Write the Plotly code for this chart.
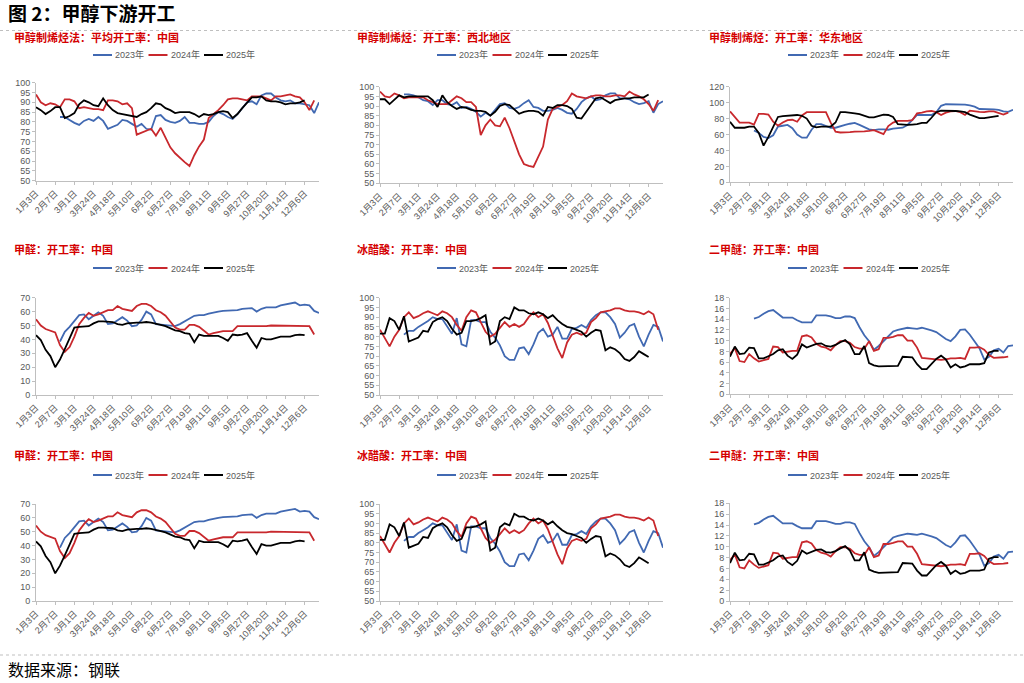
import plotly.graph_objects as go

N = 60
tick_labels = ["1月3日", "2月7日", "3月1日", "3月24日", "4月18日", "5月10日", "6月2日",
               "6月27日", "7月19日", "8月11日", "9月5日", "9月27日", "10月20日",
               "11月14日", "12月6日"]
tick_step = 4
years = ["2023年", "2024年", "2025年"]
colors = ["#4169B2", "#C8282D", "#000000"]

# 甲醇制烯烃法：平均开工率：中国
mto_avg_2023 = [None]*5 + [82.5, 82.5, 81, 79.5, 78.5, 80.5, 81.5, 80.5, 82.5, 80.5, 76.5, 77.5, 78.5, 81, 80.5,
                           79, 77.5, 79, 76.5, 76, 83, 83.5, 81, 80, 79.5, 80.5, 82.5, 79.5, 79.5, 79, 79, 80, 83,
                           85, 84, 82.5, 81.5, 84, 87, 90, 90.5, 89, 93.5, 94.5, 94.5, 92.5, 91, 90.5, 91, 89.5,
                           89.5, 89, 88.5, 84.5, 90]
mto_avg_2024 = [94, 90, 88.5, 89.5, 89, 87.5, 91.5, 91.5, 90.5, 87, 87.5, 87, 86.5, 86.5, 86, 91, 91, 90.5, 89,
                89.5, 87, 73.5, 74.5, 75.5, 76.5, 73, 77, 72, 67, 64, 61.5, 59.5, 57.5, 63, 67.5, 71, 82, 84, 86,
                88.5, 91.5, 92, 92, 91.5, 91, 93, 93, 93, 92, 91, 93, 93, 93.5, 94, 93, 92.5, 90, 86, 91]
mto_avg_2025 = [87.5, 86, 84, 85.5, 87.5, 87.5, 82, 83, 84.5, 89, 91, 90, 88.5, 88, 92, 88.5, 86, 84.5, 84, 83.5,
                83, 82.5, 84, 85, 87, 89.5, 89, 87, 86, 84.5, 85, 85, 85, 84, 82.5, 84, 83.5, 84, 85, 85.5, 85,
                82, 84, 87, 90, 92.5, 92.5, 93, 91, 90.5, 90.5, 90, 89, 89.5, 89.5, 90, 91]

# 甲醇制烯烃：开工率：西北地区
mto_nw_2023 = [None]*5 + [96, 96, 95.5, 94.5, 93, 92.5, 90.5, 93, 93, 91, 90.5, 92, 89, 89.5, 88.5, 87, 84.5,
                          86.5, 85, 88, 91, 91.5, 89, 88.5, 89.5, 91.5, 93, 89.5, 89, 87.5, 87.5, 88, 89, 88,
                          86.5, 86, 88.5, 92, 94, 95, 93, 93.5, 95.5, 96.5, 96.5, 94, 94, 93.5, 92, 91, 91.5,
                          92.5, 86.5, 91, 92.5]
mto_nw_2024 = [97.5, 95, 94.5, 96.5, 95.5, 94, 94.5, 94.5, 94.5, 94.5, 93, 92, 91, 91, 91, 93, 95, 94, 92, 92,
               89.5, 75, 80, 83, 80, 79.5, 84, 78.5, 72, 65, 60, 59, 58.5, 64, 69, 83, 88.5, 89.5, 90.5, 92.5,
               96.5, 95, 94.5, 94, 95, 95.5, 95.5, 95, 95, 95.5, 95.5, 95, 97.5, 96, 95, 93.5, 91, 87.5, 93]
mto_nw_2025 = [93.5, 93.5, 91, 93, 95.5, 94.5, 95, 95, 95, 95, 95, 93, 89.5, 95.5, 92, 90, 88.5, 89.5, 89, 88,
               87.5, 87.5, 87, 85, 87, 90, 91, 90.5, 88, 86, 87, 87.5, 87.5, 87, 85, 89.5, 89, 90.5, 90.5, 90,
               88.5, 84, 83.5, 87, 91, 94, 94.5, 93, 91.5, 93, 93.5, 94, 94, 94.5, 94.5, 94.5, 96]

# 甲醇制烯烃：开工率：华东地区
mto_ec_2023 = [None]*5 + [65, 62, 57, 55.5, 59, 70, 71, 72, 68, 60, 56, 56, 66, 73, 73, 70.5, 68.5, 68.5, 70.5,
                          72, 73.5, 74.5, 72, 69, 66.5, 65.5, 66.5, 66.5, 66, 67.5, 68, 68.5, 72, 78, 84.5,
                          84.5, 84.5, 84.5, 88, 96, 98, 98, 98, 98, 97.5, 96.5, 95, 92, 92, 92, 91.5, 91, 89,
                          88.5, 91]
mto_ec_2024 = [89, 82, 75, 75, 75, 72.5, 86, 86, 85, 76, 71, 75, 78, 78.5, 76, 84, 88, 88, 88, 88, 88, 75, 63.5,
               62.5, 62.5, 63, 63.5, 63.5, 64, 64.5, 65.5, 63, 60.5, 70.5, 75, 77, 77, 77, 78, 86.5, 87.5, 89,
               89.5, 88, 84.5, 87.5, 89, 89.5, 88, 84.5, 90, 89, 88.5, 88, 89, 89, 87, 85, 87.5]
mto_ec_2025 = [76, 68.5, 68.5, 68.5, 70, 70, 62, 46, 57, 70, 82, 83, 83.5, 84, 84.5, 83.5, 80, 71, 69, 70, 70,
               70, 75, 88, 88, 87.5, 86.5, 85.5, 83, 81.5, 81.5, 83, 85, 84.5, 82, 73, 72.5, 72, 72.5, 73, 74.5,
               74.5, 81, 88, 90, 90, 90, 89.5, 89, 88, 85, 83, 80.5, 80.5, 81.5, 82.5, 83.5]

# 甲醛：开工率：中国
hcho_2023 = [None]*5 + [38.5, 45.5, 49, 53, 57.5, 58, 54.5, 57, 59.5, 57, 51, 51.5, 54, 56, 53.5, 49.5, 50, 54,
                        60, 58, 51, 50.5, 50.5, 49.5, 49.5, 51, 53, 55, 57, 57.5, 57.5, 58.5, 59.5, 60, 60.5,
                        60.5, 60.5, 61, 62, 62.5, 62.5, 60, 62, 63, 63, 63, 64.5, 65, 65.5, 66.5, 64.5, 65,
                        64.5, 60.5, 59]
hcho_2024 = [54.5, 50, 47.5, 46, 45, 36, 31, 34.5, 42, 51, 55.5, 59, 57, 58, 59.5, 61, 61, 64, 62, 61.5, 60.5,
             64, 65.5, 65.5, 64, 61, 59.5, 57, 53, 48.5, 47, 47, 50.5, 50.5, 49, 46, 43.5, 44.5, 45.5, 46, 46,
             46, 49.5, 49.5, 49.5, 49.5, 49, 49, 49.5, 50, 50, 50, 50, 49.5, 49.5, 49.5, 49.5, 49.5, 43.5]
hcho_2025 = [43, 39.5, 32.5, 28, 20, 25.5, 33, 41, 48.5, 49, 49, 49.5, 51.5, 53, 53, 53, 52.5, 51, 50.5, 51.5,
             52, 52, 52, 52.5, 52, 51.5, 50.5, 49.5, 48, 46.5, 46, 44.5, 44, 38, 43.5, 42.5, 42.5, 42.5, 42.5,
             41, 39, 43.5, 43, 43.5, 44.5, 39, 34, 41, 40, 40, 41, 42, 42, 42, 43, 43.5, 43]

# 冰醋酸：开工率：中国
hac_2023 = [None]*5 + [81, 83, 83, 85, 86.5, 88, 90, 89, 89, 85, 81.5, 89.5, 76, 75, 88.5, 88.5, 87.5, 87.5,
                       82.5, 79.5, 75.5, 70, 68, 68, 74, 74.5, 71, 76, 82, 84, 80, 81, 85, 79, 79, 84, 84.5, 86,
                       84.5, 88.5, 91, 92.5, 92.5, 90, 86.5, 79.5, 82, 85.5, 86.5, 80, 75, 81, 86, 85, 77.5]
hac_2024 = [83.5, 79, 75, 80, 83.5, 90, 92.5, 89.5, 90.5, 92, 93, 92, 91, 93, 92, 90, 86, 83, 90, 93.5, 92.5,
            87.5, 82.5, 80, 81.5, 84.5, 87.5, 85, 86.5, 85, 86.5, 90, 92.5, 90, 91.5, 87, 80.5, 74, 69, 77, 81,
            82, 81, 82, 87.5, 89.5, 92.5, 93, 93.5, 94.5, 94.5, 93.5, 93, 93, 92.5, 91.5, 93, 91.5, 83.5]
hac_2025 = [81.5, 81.5, 89.5, 88, 83.5, 90.5, 77.5, 78.5, 79.5, 83, 82.5, 87.5, 89, 90, 88, 84, 81, 82, 88, 88,
            88.5, 89.5, 91, 76, 77.5, 88, 90, 89, 95, 93.5, 93.5, 92, 91.5, 92.5, 91.5, 89.5, 91, 88.5, 86.5,
            85, 84.5, 83.5, 82.5, 80, 82, 83.5, 83, 73, 74.5, 73.5, 71.5, 68.5, 67.5, 69.5, 72.5, 71, 69.5]

# 二甲醚：开工率：中国
dme_2023 = [None]*5 + [14.1, 14.4, 15, 15.5, 15.7, 15, 14.3, 14.3, 14.3, 13.8, 13.4, 13.4, 13.4, 14.7, 14.7,
                       14.7, 14.5, 14.2, 14.2, 14.5, 14.5, 14.2, 12.5, 11, 9.9, 8.3, 9, 9.9, 10.8, 11.7, 12,
                       12.2, 12.4, 12.3, 12.2, 12.4, 12.2, 11.9, 11.6, 11, 10.3, 9.9, 10.8, 12, 12.1, 11.1, 9.8,
                       8.6, 6.5, 7, 8.2, 8.5, 7.8, 9, 9.1]
dme_2024 = [7.5, 8.6, 6.2, 6, 7.5, 6.7, 6.1, 6.3, 6.6, 8.9, 8.8, 7.8, 8, 8.1, 8.1, 10.8, 11, 10.6, 9.4, 8.9,
            8.7, 8.2, 9.2, 9.9, 9.9, 9.6, 8.8, 8.5, 8.5, 9.9, 8.1, 8.4, 10.5, 10.5, 10.7, 11, 11, 10, 10, 8.7,
            6.8, 6.7, 6.7, 6.6, 6.4, 6.5, 6.7, 6.7, 6.8, 6.6, 8.7, 8.7, 8.8, 8.3, 7.3, 6.8, 6.8, 6.9, 7]
dme_2025 = [7, 8.9, 7.5, 7.6, 8.7, 8.6, 6.7, 6.7, 7.1, 7.5, 8.2, 8.4, 7.2, 6.6, 7.4, 9.3, 8.7, 9, 9.4, 9.5, 9,
            8.9, 9.2, 9.7, 10.1, 9.3, 7.5, 7.5, 9, 5.8, 5.4, 5.2, 5.2, 5.2, 5.2, 5.3, 7, 7, 6.9, 5.6, 4.7, 4.7,
            5.6, 6.6, 7.2, 6.5, 5, 5.6, 5, 5.2, 5.6, 5.6, 5.6, 5.8, 7.8, 8.1, 8.1]

W, H = 1024, 683
FONT = "Liberation Sans, Arial, Noto Sans CJK SC, sans-serif"
CJK = "Noto Sans CJK SC, sans-serif"


def fit(v):
    return (list(v) + [None] * N)[:N]


def px(x):
    return x / W


def py(y):
    return 1 - y / H


panels = [
    ("甲醇制烯烃法：平均开工率：中国", [mto_avg_2023, mto_avg_2024, mto_avg_2025], [50, 100], 5,
     (36, 319, 82.7, 180.7), (12, 37), (93, 55)),
    ("甲醇制烯烃：开工率：西北地区", [mto_nw_2023, mto_nw_2024, mto_nw_2025], [50, 100], 5,
     (380, 663, 86.7, 183.3), (355, 37.5), (437, 55)),
    ("甲醇制烯烃：开工率：华东地区", [mto_ec_2023, mto_ec_2024, mto_ec_2025], [0, 120], 20,
     (730, 1013, 86.7, 182.3), (707, 37.5), (788, 55)),
    ("甲醛：开工率：中国", [hcho_2023, hcho_2024, hcho_2025], [0, 70], 10,
     (36, 319, 297.7, 395), (12, 249), (93, 268)),
    ("冰醋酸：开工率：中国", [hac_2023, hac_2024, hac_2025], [50, 100], 5,
     (380, 663, 297.7, 395), (355, 249), (437, 268)),
    ("二甲醚：开工率：中国", [dme_2023, dme_2024, dme_2025], [0, 18], 2,
     (730, 1013, 297.7, 394.3), (707, 249), (788, 268)),
    ("甲醛：开工率：中国", [hcho_2023, hcho_2024, hcho_2025], [0, 70], 10,
     (36, 319, 504, 601), (12, 455), (93, 475)),
    ("冰醋酸：开工率：中国", [hac_2023, hac_2024, hac_2025], [50, 100], 5,
     (380, 663, 504, 601), (355, 455), (437, 475)),
    ("二甲醚：开工率：中国", [dme_2023, dme_2024, dme_2025], [0, 18], 2,
     (730, 1013, 503.3, 601), (707, 455), (788, 475)),
]

fig = go.Figure()
layout = dict(
    width=W, height=H, margin=dict(l=0, r=0, t=0, b=0, pad=0, autoexpand=False),
    paper_bgcolor="white", plot_bgcolor="white", showlegend=False,
    font=dict(family=FONT, size=9, color="#595959"),
)
shapes = []
annotations = []

xs = list(range(N))
tickvals = [i * tick_step for i in range(len(tick_labels))]

for k, (title, series, yr, dt, box, txy, lxy) in enumerate(panels, start=1):
    sfx = "" if k == 1 else str(k)
    x0, x1, ytop, ybot = box
    layout["xaxis" + sfx] = dict(
        domain=[px(x0), px(x1)], range=[0, N - 1], anchor="y" + sfx,
        tickmode="array", tickvals=tickvals, ticktext=tick_labels, tickangle=-45,
        tickfont=dict(size=9, color="#595959", family=FONT),
        showline=True, linecolor="#BFBFBF", linewidth=1,
        ticks="outside", ticklen=3, tickcolor="#BFBFBF",
        showgrid=False, zeroline=False, fixedrange=True, automargin=False,
    )
    layout["yaxis" + sfx] = dict(
        domain=[py(ybot), py(ytop)], range=yr, dtick=dt, tick0=yr[0], anchor="x" + sfx,
        tickfont=dict(size=9, color="#595959", family=FONT),
        showline=True, linecolor="#BFBFBF", linewidth=1,
        ticks="outside", ticklen=3, tickcolor="#BFBFBF",
        showgrid=False, zeroline=False, fixedrange=True, automargin=False,
    )
    for yname, col, vals in zip(years, colors, series):
        fig.add_trace(go.Scatter(
            x=xs, y=fit(vals), mode="lines", name=yname,
            line=dict(color=col, width=1.8), xaxis="x" + sfx, yaxis="y" + sfx,
            hoverinfo="x+y+name",
        ))
    # panel title
    annotations.append(dict(
        x=px(txy[0]), y=py(txy[1]), xref="paper", yref="paper", text=title,
        showarrow=False, xanchor="left", yanchor="middle",
        font=dict(family=CJK, size=11, color="#D40000", weight="bold"),
    ))
    # legend
    for j, (yname, col) in enumerate(zip(years, colors)):
        lx = lxy[0] + j * 55.5
        shapes.append(dict(type="line", xref="paper", yref="paper",
                           x0=px(lx), x1=px(lx + 19), y0=py(lxy[1]), y1=py(lxy[1]),
                           line=dict(color=col, width=2)))
        annotations.append(dict(
            x=px(lx + 20), y=py(lxy[1]), xref="paper", yref="paper", text=yname,
            showarrow=False, xanchor="left", yanchor="middle",
            font=dict(family=FONT, size=9, color="#595959"),
        ))

# main title, separators and source
annotations.append(dict(
    x=px(6), y=py(12), xref="paper", yref="paper", text="<b>图 2：甲醇下游开工</b>",
    showarrow=False, xanchor="left", yanchor="middle",
    font=dict(family=CJK, size=19, color="#000000"),
))
annotations.append(dict(
    x=px(6), y=py(669), xref="paper", yref="paper", text="数据来源：钢联",
    showarrow=False, xanchor="left", yanchor="middle",
    font=dict(family=CJK, size=16, color="#000000"),
))
for yy in (30.5, 655):
    shapes.append(dict(type="line", xref="paper", yref="paper", x0=0, x1=1,
                       y0=py(yy), y1=py(yy),
                       line=dict(color="#BFBFBF", width=1, dash="3px,3px")))

layout["shapes"] = shapes
layout["annotations"] = annotations
fig.update_layout(**layout)
fig.write_html(
    "out.html",
    config={"displayModeBar": False},
    post_script="document.body.style.margin='0';document.body.style.padding='0';"
                "document.body.style.overflow='hidden';",
)
